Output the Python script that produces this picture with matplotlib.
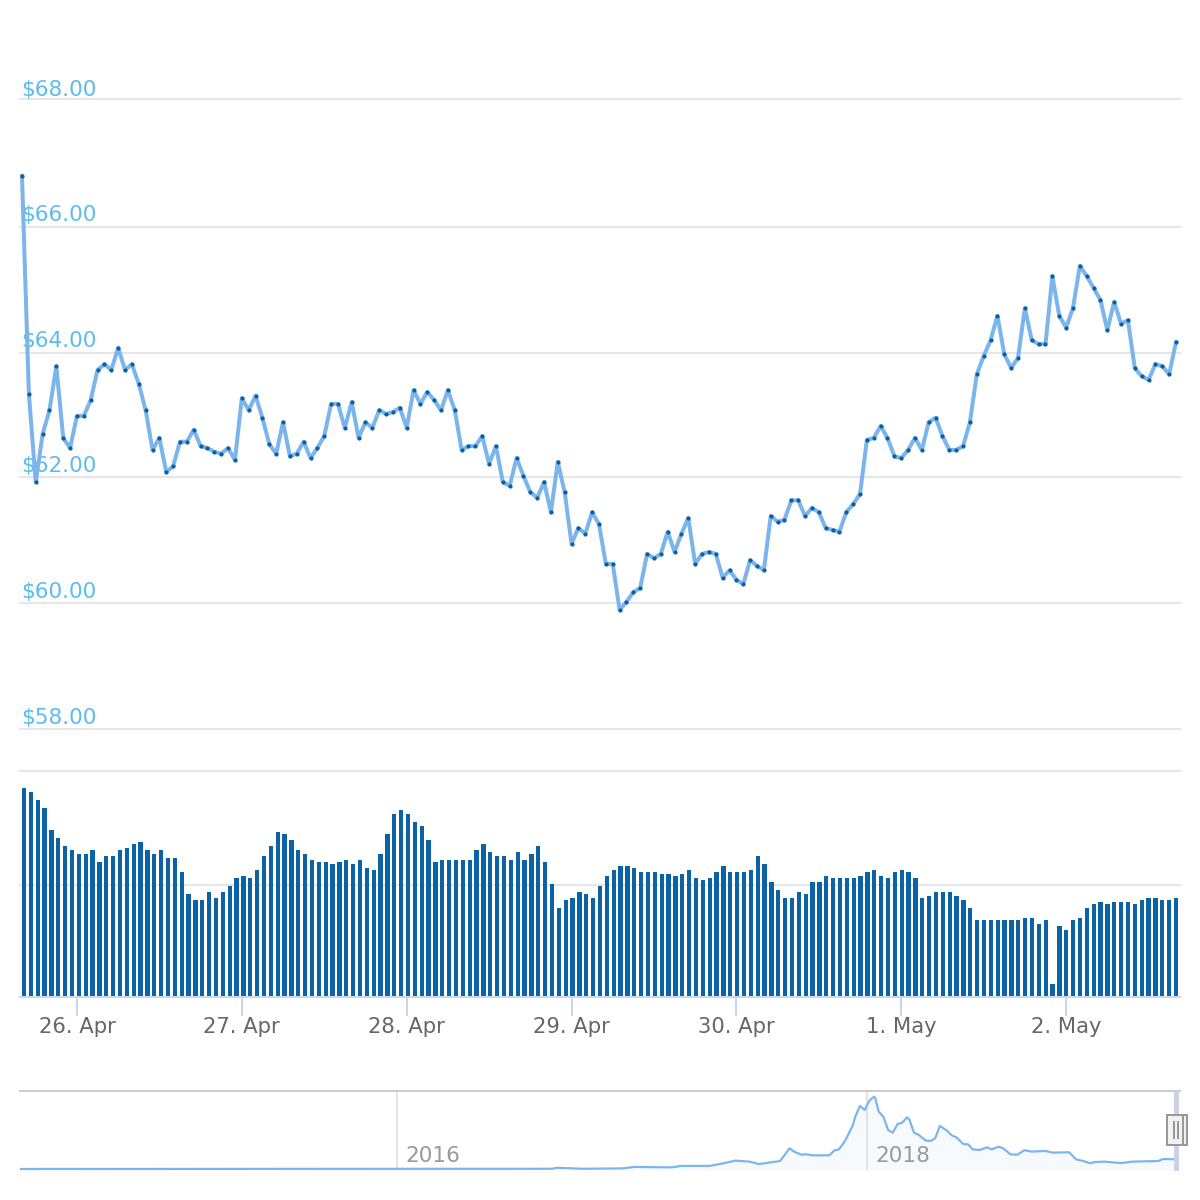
import matplotlib
matplotlib.use("Agg")
import matplotlib.pyplot as plt
import matplotlib.dates as mdates
from matplotlib.patches import Rectangle
from matplotlib.lines import Line2D
from matplotlib.transforms import ScaledTranslation
import pandas as pd

price = [66.78,63.32,61.92,62.68,63.06,63.76,62.62,62.46,62.97,62.97,63.22,63.70,63.79,63.70,64.05,63.70,63.79,63.48,63.06,62.43,
         62.62,62.08,62.17,62.56,62.56,62.75,62.49,62.46,62.40,62.37,62.46,62.27,63.25,63.06,63.29,62.94,62.52,62.37,62.87,62.33,
         62.37,62.56,62.30,62.46,62.65,63.16,63.16,62.78,63.19,62.62,62.87,62.78,63.06,63.00,63.03,63.10,62.78,63.38,63.16,63.35,
         63.22,63.06,63.38,63.06,62.43,62.49,62.49,62.65,62.21,62.49,61.92,61.86,62.30,62.02,61.76,61.67,61.92,61.44,62.24,61.76,
         60.94,61.19,61.10,61.44,61.25,60.62,60.62,59.89,60.02,60.17,60.24,60.78,60.71,60.78,61.13,60.81,61.10,61.35,60.62,60.78,
         60.81,60.78,60.40,60.52,60.37,60.30,60.68,60.59,60.52,61.38,61.29,61.32,61.63,61.63,61.38,61.51,61.44,61.19,61.16,61.13,
         61.44,61.57,61.73,62.59,62.62,62.81,62.62,62.33,62.30,62.43,62.62,62.43,62.87,62.94,62.65,62.43,62.43,62.49,62.87,63.63,
         63.92,64.17,64.56,63.95,63.73,63.89,64.68,64.17,64.11,64.11,65.19,64.56,64.37,64.68,65.35,65.19,65.00,64.81,64.33,64.78,
         64.43,64.49,63.73,63.60,63.54,63.79,63.76,63.63,64.14]

volume = [209,205,197,189,167,159,151,147,143,143,147,135,141,141,147,149,153,155,147,143,147,139,139,125,103,97,97,105,99,105,
          111,119,121,119,127,141,151,165,163,157,147,
          143,137,135,135,133,135,137,133,137,129,127,143,163,183,187,183,175,171,157,135,137,137,137,137,137,147,153,145,141,141,
          137,145,137,143,151,135,113,89,97,99,105,103,99,111,
          121,127,131,131,129,125,125,125,123,123,121,123,127,119,117,119,125,131,125,125,125,127,141,133,115,107,99,99,105,103,
          115,115,121,119,119,119,119,121,125,127,121,119,125,127,125,
          119,99,101,105,105,105,101,97,89,77,77,77,77,77,77,77,79,79,73,77,13,71,67,77,79,89,93,95,93,95,95,95,93,97,99,99,97,97,99]

nav_year = [2014.40,2016.66,2016.68,2016.79,2016.96,2017.01,2017.17,2017.21,2017.33,2017.39,2017.44,2017.50,2017.54,2017.63,2017.66,
            2017.67,2017.69,2017.72,2017.74,2017.77,2017.84,2017.86,2017.88,2017.90,2017.91,2017.94,2017.95,2017.97,2017.99,2018.01,
            2018.03,2018.035,2018.05,2018.07,2018.09,2018.11,2018.13,2018.15,2018.17,2018.18,2018.20,2018.22,2018.25,2018.27,2018.29,
            2018.31,2018.34,2018.36,2018.38,2018.41,2018.43,2018.45,2018.48,2018.51,2018.53,2018.56,2018.58,2018.61,2018.64,2018.67,
            2018.70,2018.76,2018.79,2018.86,2018.89,2018.92,2018.95,2018.97,2019.01,2019.08,2019.13,2019.24,2019.26,2019.32]
nav_price = [5,6,11,6,8,15,13,20,20,33,46,41,29,44,90,106,90,75,77,72,72,95,101,131,150,220,261,314,294,340,359,353,286,260,196,183,
             225,232,258,248,183,172,144,142,155,216,193,170,160,127,126,101,98,111,101,114,106,77,75,97,90,93,85,87,52,44,33,39,41,34,41,44,54,52]

price_ticks = ["$58.00","$60.00","$62.00","$64.00","$66.00","$68.00"]
date_labels = ["26. Apr","27. Apr","28. Apr","29. Apr","30. Apr","1. May","2. May"]
date_ticks = ["2019-04-26","2019-04-27","2019-04-28","2019-04-29","2019-04-30","2019-05-01","2019-05-02"]
year_labels = ["2016","2018"]

plt.rcParams["font.family"] = ["DejaVu Sans"]
W = H = 1200
fig = plt.figure(figsize=(12, 12), dpi=100, facecolor="white")


def rect(x0, y0, x1, y1):
    return [x0 / W, 1 - y1 / H, (x1 - x0) / W, (y1 - y0) / H]


def px(n):
    return n * 72 / 100


def shift(dx, dy):
    return ScaledTranslation(dx / 100, dy / 100, fig.dpi_scale_trans)


times = pd.date_range("2019-04-25 16:00", periods=len(price), freq="h")
hour = pd.Timedelta(hours=1)

# price panel
ax = fig.add_axes(rect(20, 99, 1180, 729))
ax.set_facecolor("none")
ax.set_ylim(58, 68)
ax.set_xlim(times[0] - hour * (2 / 6.869), times[-1] + hour * (4 / 6.869))
ax.set_yticks([58, 60, 62, 63.97, 65.97, 68], price_ticks)
ax.grid(axis="y", color="#e6e6e6", lw=px(2))
for gl in ax.get_ygridlines():
    gl.set_clip_on(False)
ax.set_axisbelow(True)
ax.tick_params(axis="y", length=0, pad=-px(1), labelcolor="#5dbcee", labelsize=15.6)
ax.tick_params(axis="x", bottom=False, labelbottom=False)
for lab, dy in zip(ax.get_yticklabels(), [1, 1, 1, 2, 2, -1]):
    lab.set_ha("left")
    lab.set_va("bottom")
    lab.set_transform(lab.get_transform() + shift(0, dy))
for s in ax.spines.values():
    s.set_visible(False)
ax.plot(times, price, color="#7cb5ec", lw=px(4), solid_joinstyle="round", clip_on=False, zorder=3)
ax.plot(times, price, ls="none", marker="o", ms=px(4.2), mfc="#0a5fa5", mec="none", clip_on=False, zorder=4)

# volume panel
ax_v = fig.add_axes(rect(20, 771, 1180, 997))
ax_v.set_ylim(0, 226)
ax_v.set_xlim(times[0] - hour * (4 / 6.857), times[-1] + hour * (4 / 6.857))
ax_v.set_yticks([112, 226])
ax_v.grid(axis="y", color="#e6e6e6", lw=px(2))
for gl in ax_v.get_ygridlines():
    gl.set_clip_on(False)
ax_v.set_axisbelow(True)
ax_v.tick_params(left=False, labelleft=False, bottom=False, labelbottom=False)
for s in ax_v.spines.values():
    s.set_visible(False)
ax_v.bar(times, volume, width=(4.3 / 6.857) / 24, color="#0b62a6", lw=0, zorder=2, clip_on=False)

# date axis, on the same time scale as the price panel
ax_x = fig.add_axes(rect(20, 771, 1180, 997), sharex=ax)
ax_x.patch.set_visible(False)
ax_x.set_ylim(0, 226)
for name, s in ax_x.spines.items():
    s.set_visible(name == "bottom")
ax_x.spines["bottom"].set_color("#ccd6eb")
ax_x.spines["bottom"].set_linewidth(px(2))
ax_x.tick_params(axis="y", left=False, labelleft=False)
ax_x.set_xticks(mdates.date2num(pd.to_datetime(date_ticks)), date_labels)
ax_x.tick_params(axis="x", bottom=True, labelbottom=True, length=px(19), width=px(2), color="#ccd6eb",
                 labelcolor="#666666", labelsize=15.2, pad=px(1))

# navigator
ax_n = fig.add_axes(rect(20, 1091, 1180, 1170))
ax_n.set_xlim(2016 - 377 / 235, 2016 + 783 / 235)
ax_n.set_ylim(0, 387)
ax_n.fill_between(nav_year, nav_price, color="#7cb5ec", alpha=0.06, lw=0)
ax_n.plot(nav_year, nav_price, color="#7cb5ec", lw=px(2.2), solid_joinstyle="round", clip_on=False, zorder=3)
for name, s in ax_n.spines.items():
    s.set_visible(name == "top")
ax_n.spines["top"].set_color("#cccccc")
ax_n.spines["top"].set_linewidth(px(2))
ax_n.set_xticks([2016, 2018], year_labels)
ax_n.grid(axis="x", color="#e6e6e6", lw=px(2))
ax_n.set_axisbelow(True)
ax_n.tick_params(axis="y", left=False, labelleft=False)
ax_n.tick_params(axis="x", length=0, direction="in", pad=-px(24), labelcolor="#999999", labelsize=15.6)
for lab in ax_n.get_xticklabels():
    lab.set_ha("left")
    lab.set_transform(lab.get_transform() + shift(8, 0))


# navigator selection band and handles (figure pixels)
def fig_rect(x0, y0, x1, y1, **kw):
    fig.add_artist(Rectangle((x0 / W, 1 - y1 / H), (x1 - x0) / W, (y1 - y0) / H,
                             transform=fig.transFigure, **kw))


fig_rect(1174, 1091, 1179, 1171, fc="#c8d0e4", ec="none", alpha=0.95, zorder=5)
for x0 in (1171, 1167):
    fig_rect(x0, 1115, x0 + 16, 1145, fc="#f2f2f2", ec="#999999", lw=px(2), zorder=6)
for x in (1173.5, 1177.5):
    fig.add_artist(Line2D([x / W, x / W], [1 - 1122 / H, 1 - 1138 / H], color="#999999", lw=px(2),
                          transform=fig.transFigure, zorder=7))

fig.savefig("out.png", dpi=100)
